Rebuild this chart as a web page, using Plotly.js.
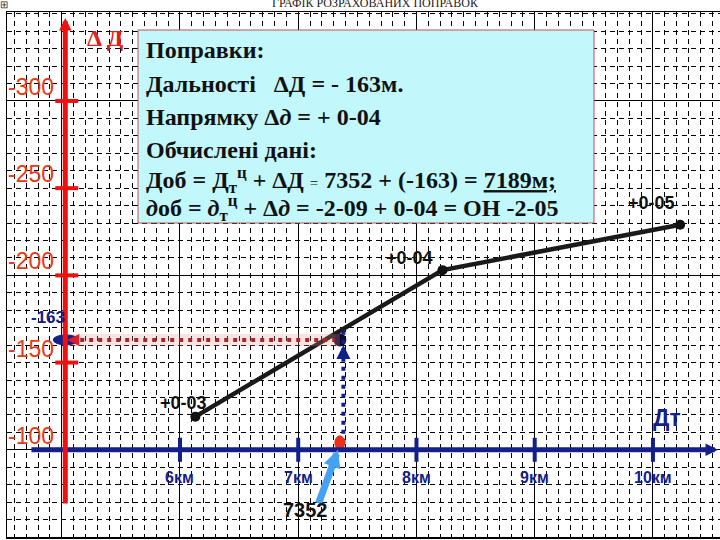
<!DOCTYPE html>
<html>
<head>
<meta charset="utf-8">
<script src="https://cdn.plot.ly/plotly-3.0.1.min.js"></script>
<style>html,body{margin:0;padding:0;background:#fff}#chart{width:720px;height:540px}</style>
</head>
<body>
<div id="chart"></div>
<script>
// точки графіка: топографічна дальність (км) / поправка дальності (м)
const distKm = [6.13, 8.22, 10.23];
const deltaD = [-119, -203, -229];
const dirLabels = ['+0-03', '+0-04', '+0-05'];

// відлік по графіку
const targetDist = 7352;
const targetDelta = -163;
const targetKm = targetDist / 1000;

const kmTicks = [6, 7, 8, 9, 10];
const kmLabels = ['6км', '7км', '8км', '9км', '10км'];
const deltaTicks = [-300, -250, -200, -150, -100];
const deltaLabels = ['-300', '-250', '-200', '-150', '-100'];

const boxLines = [
  'Поправки:',
  'Дальності\u00a0\u00a0 ΔД = - ' + Math.abs(targetDelta) + 'м.',
  'Напрямку Δ<i>д</i> = + 0-04',
  'Обчислені дані:',
  'Доб = Д<sub>т</sub><sup>ц</sup> + ΔД <span style="font-size:15px;font-weight:normal">=</span> ' +
    targetDist + ' + (' + targetDelta + ') = <u>' + (targetDist + targetDelta) + 'м;</u>',
  '<i>д</i>об = <i>д</i><sub>т</sub><sup>ц</sup> + Δ<i>д</i> = -2-09 + 0-04 = ОН -2-05'
];

const RED = '#f01010', RED_TXT = '#e63a18', NAVY = '#14208a';
const SANS = 'Liberation Sans';
const SERIF = 'Liberation Serif';

// plot area in pixels, for paper positions
const PL = 7, PT = 12, PW = 713, PH = 525;
const px = x => (x - PL) / PW;
const py = y => 1 - (y - PT) / PH;

const AX_KM = 5.03;     // where the red ΔД axis stands
const AX_Y = -100;      // where the Дт axis stands

const traces = [
  {
    x: distKm, y: deltaD, type: 'scatter', mode: 'lines+markers',
    line: {color: '#1a1a1a', width: 4.5},
    marker: {color: '#111', size: 10},
    hoverinfo: 'skip', cliponaxis: false
  },
  {
    x: [targetKm], y: [targetDelta], type: 'scatter', mode: 'markers',
    marker: {color: '#0c0c30', size: 13},
    hoverinfo: 'skip', cliponaxis: false
  }
];

const shapes = [];
// pink band + dotted red line to the ΔД axis
shapes.push({type: 'line', xref: 'x', yref: 'y', x0: AX_KM, x1: targetKm, y0: targetDelta, y1: targetDelta,
  line: {color: 'rgba(240,140,140,0.25)', width: 12}, layer: 'above'});
shapes.push({type: 'line', xref: 'x', yref: 'y', x0: AX_KM + 0.05, x1: targetKm - 0.04, y0: targetDelta, y1: targetDelta,
  line: {color: '#9c2c28', width: 4, dash: '4px,5px'}, layer: 'above'});
// dotted blue line up from the Дт axis
shapes.push({type: 'line', xref: 'x', yref: 'y', x0: targetKm + 0.03, x1: targetKm + 0.03, y0: AX_Y - 4, y1: targetDelta - 6,
  line: {color: NAVY, width: 4, dash: '4px,5px'}, layer: 'above'});
// text box
shapes.push({type: 'rect', xref: 'paper', yref: 'paper', x0: px(138), x1: px(594), y0: py(223), y1: py(30),
  fillcolor: '#c2f8fb', line: {color: '#b85450', width: 1}, layer: 'above'});
// km ticks on the Дт axis
kmTicks.forEach(k => shapes.push({type: 'line', xref: 'x', yref: 'y', ysizemode: 'pixel', yanchor: AX_Y,
  x0: k, x1: k, y0: -12, y1: 12, line: {color: NAVY, width: 4}, layer: 'above'}));
// red marker on the Дт axis at the reading
shapes.push({type: 'circle', xref: 'x', yref: 'y', xsizemode: 'pixel', ysizemode: 'pixel',
  xanchor: targetKm, yanchor: AX_Y - 4, x0: -5, x1: 5, y0: -7, y1: 7,
  fillcolor: '#e8301c', line: {color: '#e8301c', width: 1}, layer: 'above'});

const annotations = [];
// axes with arrows
annotations.push({x: 10.55, y: AX_Y, ax: 4.731, ay: AX_Y, xref: 'x', yref: 'y', axref: 'x', ayref: 'y',
  text: '', showarrow: true, arrowhead: 2, arrowsize: 0.5, arrowwidth: 5, arrowcolor: NAVY});
annotations.push({x: AX_KM, y: -347.6, ax: AX_KM, ay: -68.3, xref: 'x', yref: 'y', axref: 'x', ayref: 'y',
  text: '', showarrow: true, arrowhead: 2, arrowsize: 0.5, arrowwidth: 5, arrowcolor: RED});

deltaTicks.forEach((v, i) => {
  shapes.push({type: 'line', xref: 'x', yref: 'y', xsizemode: 'pixel', xanchor: AX_KM,
    x0: -10, x1: 13, y0: v, y1: v, line: {color: RED, width: 4}, layer: 'above'});
  annotations.push({x: AX_KM, y: v, xref: 'x', yref: 'y', xshift: -34, yshift: 14, showarrow: false,
    xanchor: 'center', yanchor: 'middle',
    text: deltaLabels[i], font: {family: SANS, size: 23, color: RED_TXT}});
});
kmTicks.forEach((k, i) => annotations.push({x: k, y: AX_Y, xref: 'x', yref: 'y', yshift: -28, showarrow: false,
  xanchor: 'center', yanchor: 'middle',
  text: kmLabels[i], font: {family: SANS, size: 16, color: NAVY, weight: 'bold'}}));

// ellipse on ΔД axis at the reading
shapes.push({type: 'circle', xref: 'x', yref: 'y', xsizemode: 'pixel', ysizemode: 'pixel',
  xanchor: AX_KM, yanchor: targetDelta, x0: -12, x1: 13, y0: -5, y1: 5,
  fillcolor: NAVY, line: {color: NAVY, width: 1}, layer: 'above'});
annotations.push({x: AX_KM, y: targetDelta, ax: 14, ay: 0, xref: 'x', yref: 'y', standoff: 2,
  text: '', showarrow: true, arrowhead: 2, arrowsize: 0.8, arrowwidth: 3, arrowcolor: '#d8202a'});
// arrowhead on the blue dotted line
annotations.push({x: targetKm + 0.03, y: targetDelta, ax: 0, ay: 16, xref: 'x', yref: 'y', standoff: 5,
  text: '', showarrow: true, arrowhead: 2, arrowsize: 0.7, arrowwidth: 4, arrowcolor: NAVY});
// light blue pointer to the reading on the Дт axis
annotations.push({x: targetKm - 0.015, y: AX_Y, ax: -20, ay: 55, xref: 'x', yref: 'y',
  text: '', showarrow: true, arrowhead: 2, arrowsize: 0.5, arrowwidth: 7, arrowcolor: '#45a2f2'});

annotations.push({x: AX_KM, y: targetDelta, xref: 'x', yref: 'y', xshift: -17, yshift: 22, showarrow: false,
  xanchor: 'center', yanchor: 'middle',
  text: String(targetDelta), font: {family: SANS, size: 17, color: NAVY, weight: 'bold'}});
annotations.push({x: targetKm, y: AX_Y, xref: 'x', yref: 'y', xshift: -34, yshift: -60, showarrow: false,
  xanchor: 'center', yanchor: 'middle',
  text: String(targetDist), font: {family: SANS, size: 20, color: '#111', weight: 'bold'}});

// direction corrections next to the points
const labelShift = [[-12, 14], [-33, 12], [-29, 22]];
distKm.forEach((k, i) => annotations.push({x: k, y: deltaD[i], xref: 'x', yref: 'y',
  xshift: labelShift[i][0], yshift: labelShift[i][1], showarrow: false,
  xanchor: 'center', yanchor: 'middle',
  text: dirLabels[i], font: {family: SANS, size: 18, color: '#111', weight: 'bold'}}));

annotations.push({x: px(105), y: py(38), xref: 'paper', yref: 'paper', showarrow: false,
  xanchor: 'center', yanchor: 'middle',
  text: 'Δ Д', font: {family: SERIF, size: 24, color: '#e02020', weight: 'bold'}});
annotations.push({x: px(667), y: py(418), xref: 'paper', yref: 'paper', showarrow: false,
  xanchor: 'center', yanchor: 'middle',
  text: 'Дт', font: {family: SANS, size: 23, color: NAVY, weight: 'bold'}});
annotations.push({x: px(375), y: py(3), xref: 'paper', yref: 'paper', showarrow: false,
  xanchor: 'center', yanchor: 'middle',
  text: 'ГРАФІК РОЗРАХОВАНИХ ПОПРАВОК', font: {family: SERIF, size: 12, color: '#222'}});
annotations.push({x: px(4), y: py(5), xref: 'paper', yref: 'paper', showarrow: false,
  xanchor: 'center', yanchor: 'middle',
  text: '⊞', font: {family: SANS, size: 10, color: '#333'}});

const lineY = [50, 84, 117, 150, 180, 208];
boxLines.forEach((t, i) => annotations.push({x: px(144), y: py(lineY[i]), xref: 'paper', yref: 'paper',
  xanchor: 'left', yanchor: 'middle', showarrow: false, align: 'left',
  text: t, font: {family: SERIF, size: 24, color: '#111', weight: 'bold'}}));

const grid = {
  showgrid: true, gridcolor: '#000', gridwidth: 1, tick0: 0,
  showticklabels: false, ticks: '', zeroline: false,
  showline: true, mirror: true, linecolor: '#000', linewidth: 1.5, fixedrange: true
};

const layout = {
  width: 720, height: 540,
  margin: {l: PL, r: 720 - PL - PW, t: PT, b: 540 - PT - PH, pad: 0},
  paper_bgcolor: '#fff', plot_bgcolor: '#fff',
  showlegend: false,
  xaxis: Object.assign({}, grid, {range: [4.537, 10.567], dtick: 1,
    minor: {dtick: 0.1, showgrid: true, gridcolor: '#000', gridwidth: 1, griddash: '5px,4px'}}),
  yaxis: Object.assign({}, grid, {range: [-50, -351], dtick: 100,
    minor: {dtick: 10, showgrid: true, gridcolor: '#000', gridwidth: 1, griddash: '5px,4px'}}),
  shapes: shapes,
  annotations: annotations
};

Plotly.newPlot('chart', traces, layout, {displayModeBar: false, staticPlot: true});
</script>
</body>
</html>
